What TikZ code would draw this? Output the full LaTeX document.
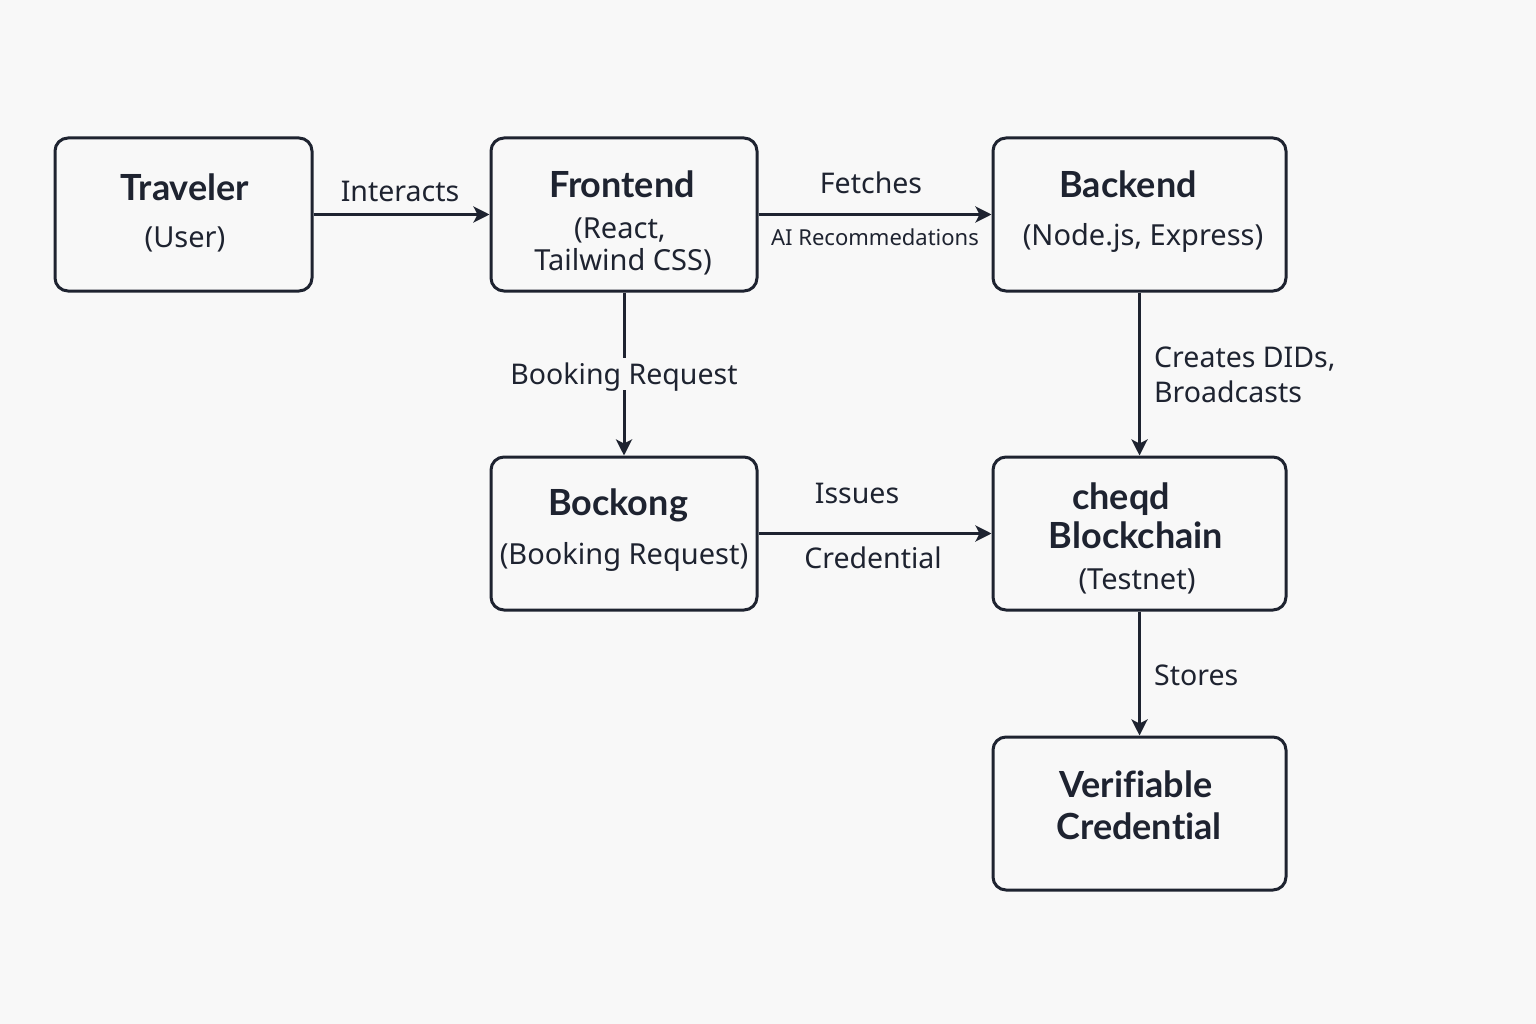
\documentclass[tikz,border=0pt]{standalone}
\usepackage{fontspec}
\setmainfont{Noto Sans}
\newfontfamily\ttlfont{Lato}[Ligatures={NoCommon}]
\usetikzlibrary{arrows.meta}
\definecolor{bg}{HTML}{F8F8F8}
\definecolor{ink}{HTML}{1E2330}
\tikzset{
  box/.style={draw=ink, line width=3pt, rounded corners=13pt, fill=bg, inner sep=0pt},
  ttl/.style={inner sep=0pt, text=ink, font=\ttlfont\fontsize{36}{40}\selectfont\bfseries, text height=25pt, text depth=0pt},
  sub/.style={inner sep=0pt, text=ink, font=\fontsize{29}{34}\selectfont, text height=21pt, text depth=0pt},
  lbl/.style={inner sep=0pt, text=ink, font=\fontsize{28.5}{34}\selectfont, text height=20pt, text depth=0pt},
  small/.style={inner sep=0pt, text=ink, font=\fontsize{22}{26}\selectfont, text height=16pt, text depth=0pt},
  arr/.style={draw=ink, line width=3pt, -{Stealth[length=16pt,width=16pt,inset=4pt]}},
}
\begin{document}
\begin{tikzpicture}[x=1pt,y=-1pt]
\fill[bg] (0,0) rectangle (1536,1024);
\useasboundingbox (0,0) rectangle (1536,1024);
% boxes
\node[box, minimum width=257pt, minimum height=153pt] (trav) at (183.5,214.5) {};
\node[box, minimum width=266pt, minimum height=153pt] (front) at (624,214.5) {};
\node[box, minimum width=293pt, minimum height=153pt] (back) at (1139.5,214.5) {};
\node[box, minimum width=266pt, minimum height=153pt] (bock) at (624,533.5) {};
\node[box, minimum width=293pt, minimum height=153pt] (cheqd) at (1139.5,533.5) {};
\node[box, minimum width=293pt, minimum height=153pt] (verif) at (1139.5,813.5) {};
% box texts
\node[ttl] (travT) at (185,188) {Traveler};
\node[sub] (travS) at (185,237) {(User)};
\node[ttl] (frontT) at (622,185) {Frontend};
\node[sub] (frontS1) at (620,228) {(React,};
\node[sub] (frontS2) at (623,260) {Tailwind CSS)};
\node[ttl] (backT) at (1128,185) {Backend};
\node[sub] (backS) at (1143,235) {(Node.js, Express)};
\node[ttl] (bockT) at (618,503) {Bockong};
\node[sub] (bockS) at (624,554) {(Booking Request)};
\node[ttl] (cheqdT1) at (1121,497) {cheqd};
\node[ttl] (cheqdT2) at (1136,536) {Blockchain};
\node[sub] (cheqdS) at (1137,579) {(Testnet)};
\node[ttl] (verT1) at (1136,785) {Verifiable};
\node[ttl] (verT2) at (1139,827) {Credential};
% connectors
\draw[arr] (trav.east) -- (front.west);
\draw[arr] (front.east) -- (back.west);
\draw[arr] (front.south) -- (bock.north);
\draw[arr] (back.south) -- (cheqd.north);
\draw[arr] (bock.east) -- (cheqd.west);
\draw[arr] (cheqd.south) -- (verif.north);
% connector labels
\node[lbl] (lInt) at (400,192) {Interacts};
\node[lbl] (lFet) at (871,184) {Fetches};
\node[small] (lAI) at (875,238) {AI Recommedations};
\node[lbl, fill=bg, inner ysep=6pt] (lBook) at (624,374) {Booking Request};
\node[lbl, anchor=west] (lCre1) at (1154,357) {Creates DIDs,};
\node[lbl, anchor=west] (lCre2) at (1154,392) {Broadcasts};
\node[lbl] (lIss) at (857,493) {Issues};
\node[lbl] (lCred) at (873,558) {Credential};
\node[lbl, anchor=west] (lSto) at (1154,675) {Stores};
\end{tikzpicture}
\end{document}
